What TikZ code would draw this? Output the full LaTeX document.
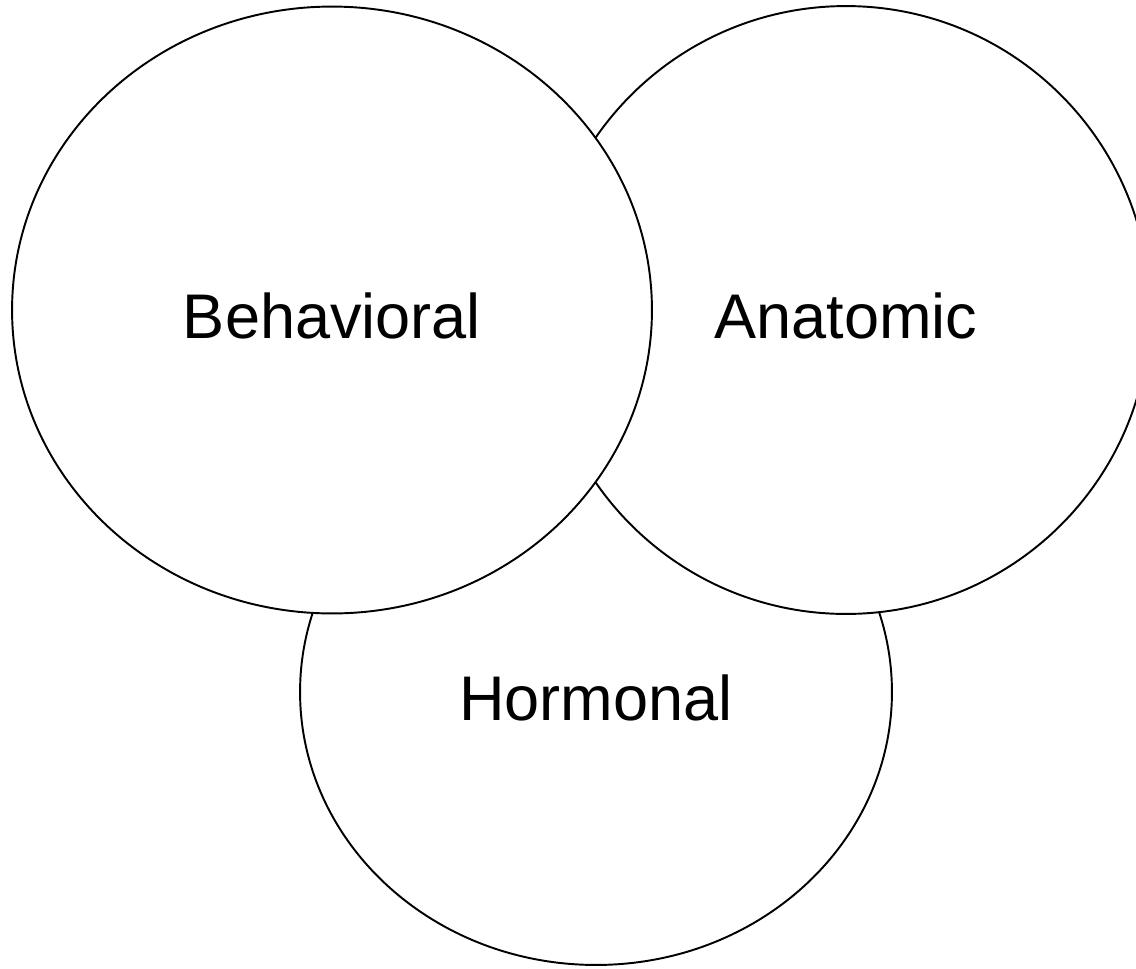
\documentclass[tikz,border=0pt]{standalone}
\usepackage{fontspec}
\setmainfont{Liberation Sans}
\usetikzlibrary{shapes.geometric}

\begin{document}
\begin{tikzpicture}[x=0.02cm, y=-0.02cm,
        area/.style={draw, ellipse, fill=white, line width=1.1pt, inner sep=0pt,
            text height=32.5pt, text depth=0pt, font=\fontsize{35.9}{43}\selectfont}]
        \useasboundingbox (0,0) rectangle (1136,968);

        % Bottom circle, drawn first so the others cover it
        \node[area, minimum width=11.84cm, minimum height=10.92cm] (hormonal) at (596,692) {Hormonal};

        % Right circle
        \node[area, minimum width=12.16cm, minimum height=12.16cm] (anatomic) at (846,310) {Anatomic};

        % Left circle on top
        \node[area, minimum width=12.8cm, minimum height=12.14cm] (behavioral) at (332,310) {Behavioral};
    \end{tikzpicture}
\end{document}
